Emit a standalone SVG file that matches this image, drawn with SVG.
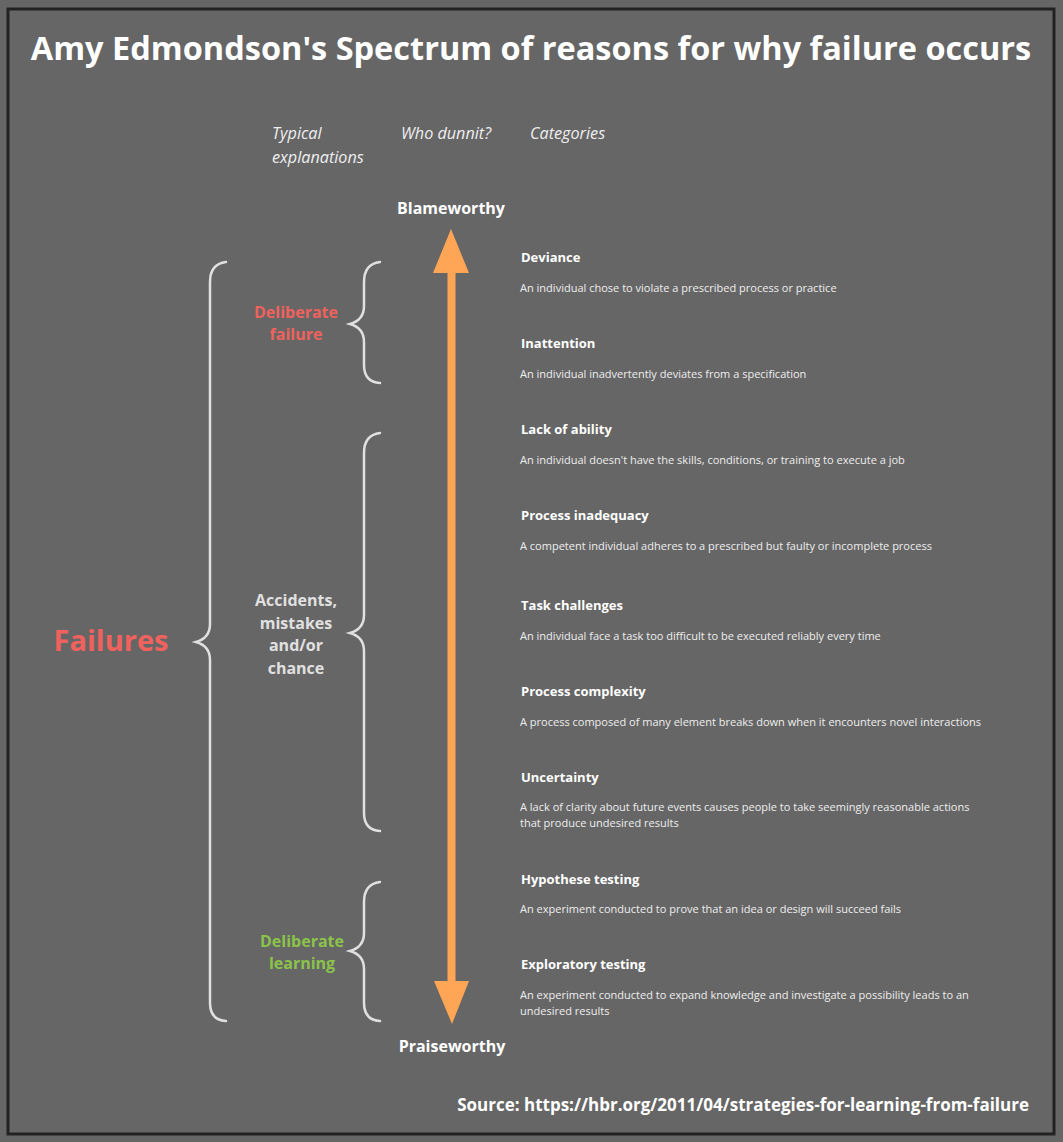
<svg xmlns="http://www.w3.org/2000/svg" width="1063" height="1142" viewBox="0 0 1063 1142">
<defs>
<style>
text{font-family:"Open Sans","Noto Sans","DejaVu Sans",sans-serif;}
.title{font-size:32.5px;font-weight:700;fill:#fff;}
.hdr{font-size:16.2px;font-style:italic;fill:#eee;}
.pole{font-size:16px;font-weight:700;fill:#fff;text-anchor:middle;}
.grp{font-size:16px;font-weight:700;text-anchor:middle;}
.cat{font-size:13px;font-weight:700;fill:#fff;}
.desc{font-size:11.03px;fill:#eee;}
.brace{fill:none;stroke:#e0e0e0;stroke-width:2.5;stroke-linecap:round;}
.src{font-size:17px;font-weight:700;fill:#fff;text-anchor:end;}
</style>
</defs>
<rect x="0" y="0" width="1063" height="1142" fill="#666"/>
<rect x="8" y="9" width="1046" height="1125" fill="#666" stroke="#222" stroke-width="3"/>
<text class="title" x="531" y="60" text-anchor="middle">Amy Edmondson's Spectrum of reasons for why failure occurs</text>
<g id="headers">
<text class="hdr" x="272" y="139">Typical</text>
<text class="hdr" x="272" y="163">explanations</text>
<text class="hdr" x="401" y="139">Who dunnit?</text>
<text class="hdr" x="530" y="139">Categories</text>
</g>
<g id="blameworthy"><text class="pole" x="451" y="214">Blameworthy</text></g>
<g id="praiseworthy"><text class="pole" x="452" y="1052">Praiseworthy</text></g>
<g id="connectors">
<line x1="451.5" y1="268" x2="451.5" y2="986" stroke="#ffa556" stroke-width="8"/>
<polygon points="451,229 469,273 433,273" fill="#ffa556"/>
<polygon points="452,1024 469,981 434,981" fill="#ffa556"/>
</g>
<g id="failures">
<path class="brace" d="M226,262 Q210,264 210,282 L210,624 Q210,638 196,642 Q210,646 210,660 L210,1003 Q210,1020 226,1021"/>
<text x="111" y="651" text-anchor="middle" style="font-size:29px;font-weight:700;fill:#f0625d">Failures</text>
</g>
<g id="deliberate-failure">
<path class="brace" d="M380,262 Q364,264 364,282 L364,306 Q364,320 350,324 Q364,328 364,342 L364,365 Q364,382 380,383"/>
<text class="grp" fill="#f0625d"><tspan x="296" y="318">Deliberate</tspan><tspan x="296" y="340">failure</tspan></text>
</g>
<g id="accidents">
<path class="brace" d="M380,433 Q364,435 364,453 L364,615 Q364,629 350,633 Q364,637 364,651 L364,813 Q364,830 380,831"/>
<text class="grp" fill="#e0e0e0"><tspan x="296" y="606">Accidents,</tspan><tspan x="296" y="629">mistakes</tspan><tspan x="296" y="651">and/or</tspan><tspan x="296" y="674">chance</tspan></text>
</g>
<g id="deliberate-learning">
<path class="brace" d="M380,882 Q364,884 364,902 L364,933 Q364,947 350,951 Q364,955 364,969 L364,1003 Q364,1020 380,1021"/>
<text class="grp" fill="#8bc34a"><tspan x="302" y="947">Deliberate</tspan><tspan x="302" y="969">learning</tspan></text>
</g>
<g id="deviance"><text class="cat" x="521" y="262">Deviance</text><text class="desc" x="520" y="292">An individual chose to violate a prescribed process or practice</text></g>
<g id="inattention"><text class="cat" x="521" y="348">Inattention</text><text class="desc" x="520" y="378">An individual inadvertently deviates from a specification</text></g>
<g id="lack-of-ability"><text class="cat" x="521" y="434">Lack of ability</text><text class="desc" x="520" y="464">An individual doesn't have the skills, conditions, or training to execute a job</text></g>
<g id="process-inadequacy"><text class="cat" x="521" y="520">Process inadequacy</text><text class="desc" x="520" y="550">A competent individual adheres to a prescribed but faulty or incomplete process</text></g>
<g id="task-challenges"><text class="cat" x="521" y="610">Task challenges</text><text class="desc" x="520" y="640">An individual face a task too difficult to be executed reliably every time</text></g>
<g id="process-complexity"><text class="cat" x="521" y="696">Process complexity</text><text class="desc" x="520" y="726">A process composed of many element breaks down when it encounters novel interactions</text></g>
<g id="uncertainty"><text class="cat" x="521" y="782">Uncertainty</text><text class="desc" x="520" y="811">A lack of clarity about future events causes people to take seemingly reasonable actions</text><text class="desc" x="520" y="827">that produce undesired results</text></g>
<g id="hypothese-testing"><text class="cat" x="521" y="884">Hypothese testing</text><text class="desc" x="520" y="913">An experiment conducted to prove that an idea or design will succeed fails</text></g>
<g id="exploratory-testing"><text class="cat" x="521" y="969">Exploratory testing</text><text class="desc" x="520" y="999">An experiment conducted to expand knowledge and investigate a possibility leads to an</text><text class="desc" x="520" y="1015">undesired results</text></g>
<text class="src" x="1029" y="1111">Source: https://hbr.org/2011/04/strategies-for-learning-from-failure</text>
</svg>
